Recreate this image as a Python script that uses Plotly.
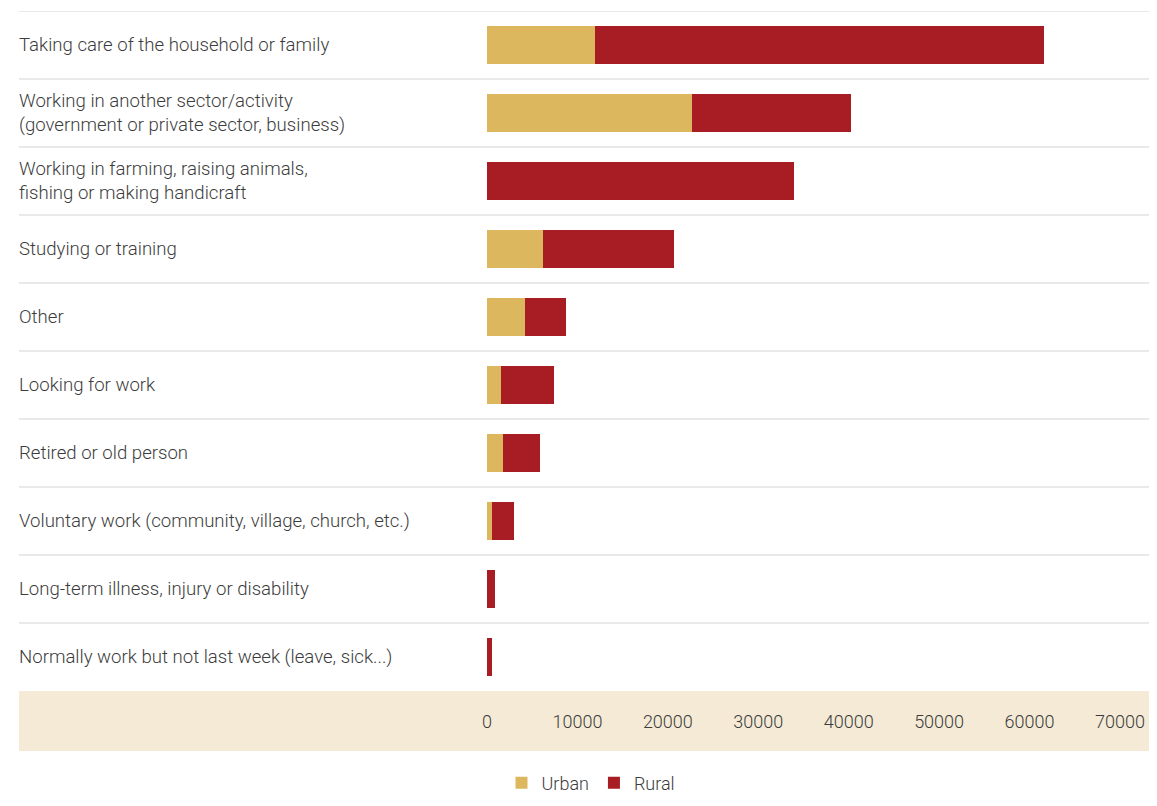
import plotly.graph_objects as go

categories = [
    "Taking care of the household or family",
    "Working in another sector/activity<br>(government or private sector, business)",
    "Working in farming, raising animals,<br>fishing or making handicraft",
    "Studying or training",
    "Other",
    "Looking for work",
    "Retired or old person",
    "Voluntary work (community, village, church, etc.)",
    "Long-term illness, injury or disability",
    "Normally work but not last week (leave, sick...)",
]
urban = [11950, 22700, 0, 6200, 4200, 1550, 1770, 550, 0, 0]
rural = [49650, 17550, 33950, 14500, 4550, 5850, 4100, 2450, 880, 550]
tick_vals = [0, 10000, 20000, 30000, 40000, 50000, 60000, 70000]

URBAN_C = "#DDB75E"
RURAL_C = "#A81C23"
TEXT_C = "#3c3c3c"
FONT = "Roboto"
# the page body adds an 8px offset, so the figure is 8px smaller than the window
W, H = 1149, 798
L, R, T, B = 479, 0, 3, 115
pw = W - L - R
ph = H - T - B
left_px = 9
xl = -(L - left_px) / pw
line_x0 = -(L - 11) / pw

fig = go.Figure()
fig.add_trace(go.Bar(y=list(range(len(categories))), x=urban, name="Urban", orientation="h",
                     marker=dict(color=URBAN_C, line=dict(width=0)), width=0.56))
fig.add_trace(go.Bar(y=list(range(len(categories))), x=rural, name="Rural", orientation="h",
                     marker=dict(color=RURAL_C, line=dict(width=0)), width=0.56))

shapes = []
shapes.append(dict(type="rect", xref="paper", yref="paper", x0=line_x0, x1=1, y0=-60 / ph, y1=0,
                   fillcolor="#F4EAD6", line=dict(width=0), layer="below"))
for i in range(len(categories)):
    shapes.append(dict(type="line", xref="paper", yref="y", x0=line_x0, x1=1, y0=i - 0.5, y1=i - 0.5,
                       line=dict(color="#D3D3D3", width=1), layer="below"))

annotations = []
for i, c in enumerate(categories):
    annotations.append(dict(xref="paper", yref="y", x=xl, y=i, text=c, showarrow=False,
                            xanchor="left", yanchor="middle", align="left",
                            font=dict(family=FONT, size=18.6, color=TEXT_C, weight=300)))

fig.update_layout(
    width=W, height=H,
    margin=dict(l=L, r=R, t=T, b=B),
    plot_bgcolor="white", paper_bgcolor="white",
    barmode="stack",
    shapes=shapes,
    annotations=annotations,
    showlegend=True,
    legend=dict(orientation="h", x=(583 - L) / pw, xanchor="center", y=-(775 - (T + ph)) / ph,
                yanchor="middle", font=dict(family=FONT, size=18, color=TEXT_C, weight=300),
                itemwidth=30, traceorder="normal"),
    xaxis=dict(range=[0, 74100], tickvals=tick_vals, ticktext=[str(v) for v in tick_vals],
               showgrid=False, zeroline=False, showline=False, ticks="",
               ticklabelstandoff=18,
               tickfont=dict(family=FONT, size=18, color=TEXT_C, weight=300)),
    yaxis=dict(range=[len(categories) - 0.5, -0.5], showticklabels=False, showgrid=False,
               zeroline=False, showline=False, ticks=""),
)

fig.write_html("out.html")
